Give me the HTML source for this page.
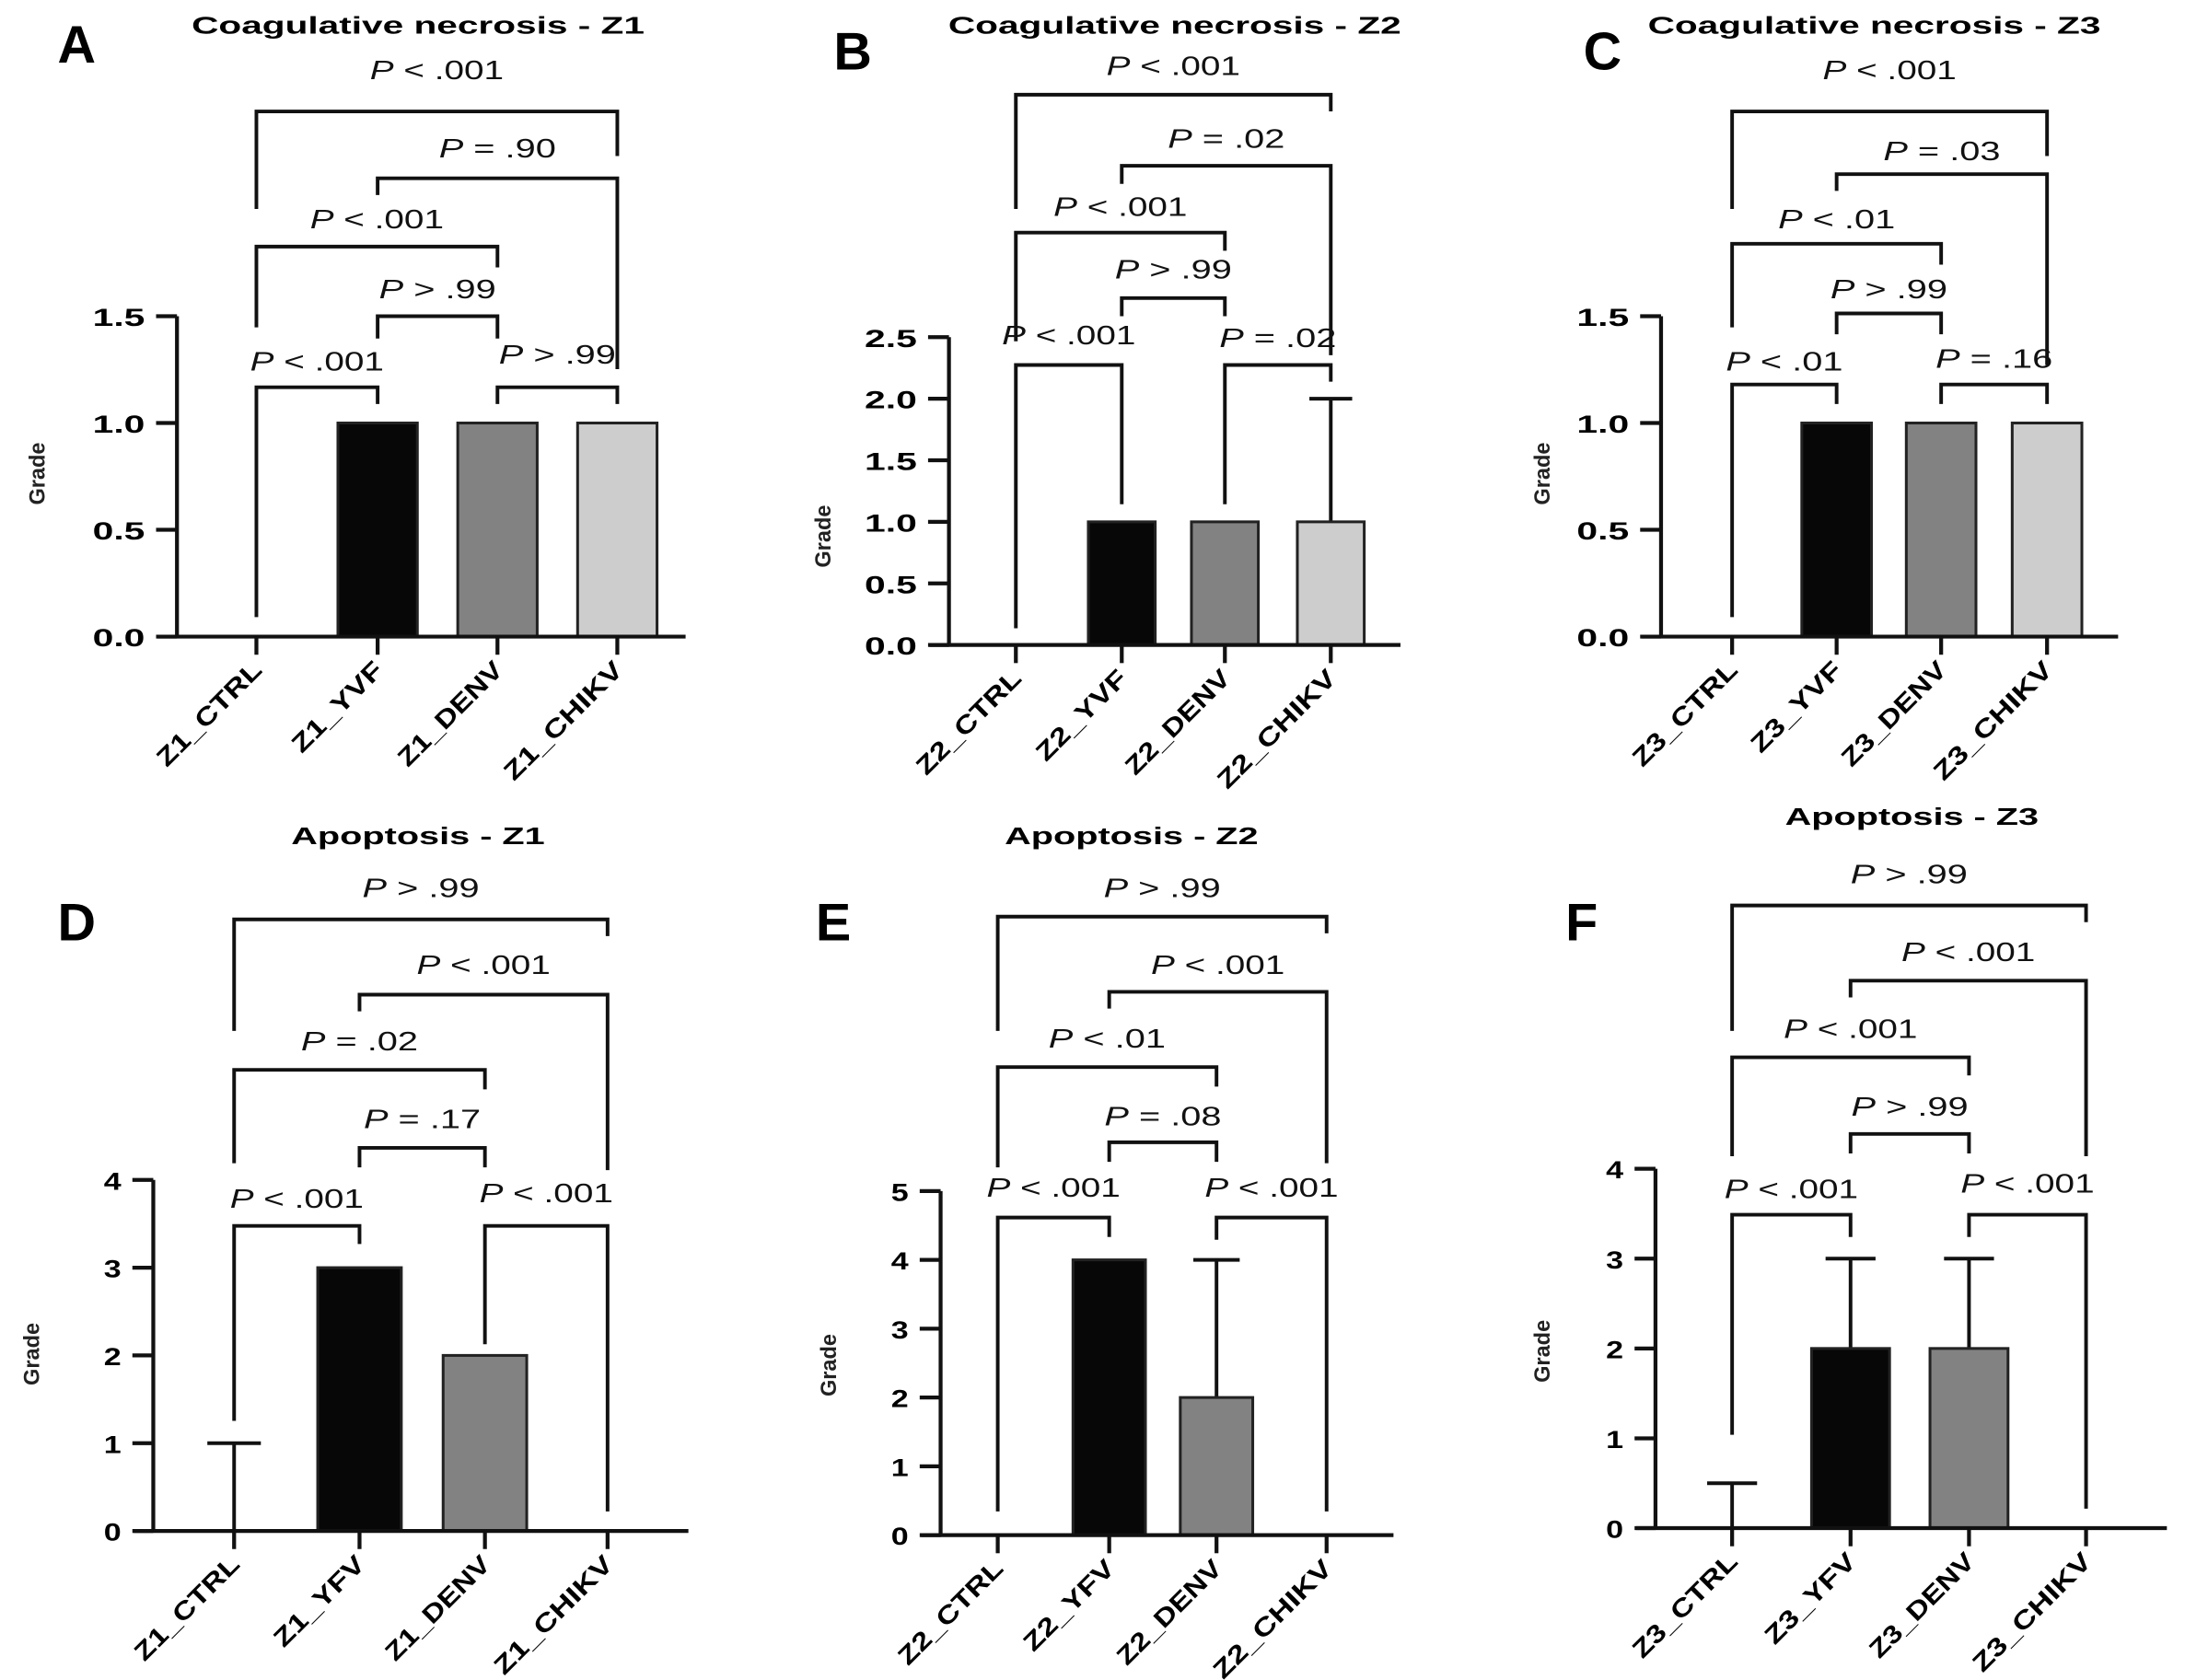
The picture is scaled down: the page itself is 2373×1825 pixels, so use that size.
<!DOCTYPE html>
<html><head><meta charset="utf-8"><style>
html,body{margin:0;padding:0;background:#fff}
svg{display:block}
text{font-family:"Liberation Sans",Arial,sans-serif}
</style></head><body>
<svg id="fig" width="2373" height="1825" viewBox="0 0 1568 1206" preserveAspectRatio="none" xmlns="http://www.w3.org/2000/svg"></svg>
<script>
// ---- data ----
const catsZ1 = ["Z1_CTRL","Z1_YVF","Z1_DENV","Z1_CHIKV"];
const catsZ2 = ["Z2_CTRL","Z2_YVF","Z2_DENV","Z2_CHIKV"];
const catsZ3 = ["Z3_CTRL","Z3_YVF","Z3_DENV","Z3_CHIKV"];
const catsD = ["Z1_CTRL","Z1_YFV","Z1_DENV","Z1_CHIKV"];
const catsE = ["Z2_CTRL","Z2_YFV","Z2_DENV","Z2_CHIKV"];
const catsF = ["Z3_CTRL","Z3_YFV","Z3_DENV","Z3_CHIKV"];
const valsA = [0,1,1,1];   const errA = [0,1,1,1];
const valsB = [0,1,1,1];   const errB = [0,1,1,2];
const valsC = [0,1,1,1];   const errC = [0,1,1,1];
const valsD = [0,3,2,0];   const errD = [1,3,2,0];
const valsE = [0,4,2,0];   const errE = [0,4,4,0];
const valsF = [0,2,2,0];   const errF = [0.5,3,3,0];
const ticksA = [0,0.5,1,1.5]; const tickLblA = ["0.0","0.5","1.0","1.5"];
const ticksB = [0,0.5,1,1.5,2,2.5]; const tickLblB = ["0.0","0.5","1.0","1.5","2.0","2.5"];
const ticksC = [0,0.5,1,1.5]; const tickLblC = ["0.0","0.5","1.0","1.5"];
const ticksD = [0,1,2,3,4]; const tickLblD = ["0","1","2","3","4"];
const ticksE = [0,1,2,3,4,5]; const tickLblE = ["0","1","2","3","4","5"];
const ticksF = [0,1,2,3,4]; const tickLblF = ["0","1","2","3","4"];
const pA = ["< .001","= .90","< .001","> .99","< .001","> .99"];
const pB = ["< .001","= .02","< .001","> .99","< .001","= .02"];
const pC = ["< .001","= .03","< .01","> .99","< .01","= .16"];
const pD = ["> .99","< .001","= .02","= .17","< .001","< .001"];
const pE = ["> .99","< .001","< .01","= .08","< .001","< .001"];
const pF = ["> .99","< .001","< .001","> .99","< .001","< .001"];

const fills = ["none","#070707","#828282","#cdcdcd"];
const NS = "http://www.w3.org/2000/svg";
const svg = document.getElementById('fig');
function mk(tag, attrs, parent){const e=document.createElementNS(NS,tag);for(const k in attrs)e.setAttribute(k,attrs[k]);(parent||svg).appendChild(e);return e;}

const panels = [
 {id:"a",letter:"A",lx:55,ly:30,title:"Coagulative necrosis - Z1",tx:300,ty:18,axX:127,y0:457,yT:227,tmax:1.5,xs:[184,271,357,443],bw:57,xEnd:492,gx:32,gy:340,
  cats:catsZ1,vals:valsA,err:errA,ticks:ticksA,tl:tickLblA,p:pA,
  br:[[0,3,80,150,112,50],[1,3,128,140,265,106],[0,2,177,235,192,157],[1,2,227,243,243,207],[0,1,278,443,290,259],[2,3,278,290,290,254]]},
 {id:"b",letter:"B",lx:612,ly:35,title:"Coagulative necrosis - Z2",tx:843,ty:18,axX:681,y0:463,yT:242,tmax:2.5,xs:[729,805,879,955],bw:48,xEnd:1005,gx:596,gy:385,
  cats:catsZ2,vals:valsB,err:errB,ticks:ticksB,tl:tickLblB,p:pB,
  br:[[0,3,68,150,80,47],[1,3,119,132,255,99],[0,2,167,245,180,148],[1,2,214,227,227,193],[0,1,262,451,362,240],[2,3,262,362,274,242]]},
 {id:"c",letter:"C",lx:1150,ly:35,title:"Coagulative necrosis - Z3",tx:1345,ty:18,axX:1192,y0:457,yT:227,tmax:1.5,xs:[1243,1318,1393,1469],bw:50,xEnd:1520,gx:1112,gy:340,
  cats:catsZ3,vals:valsC,err:errC,ticks:ticksC,tl:tickLblC,p:pC,
  br:[[0,3,80,150,112,50],[1,3,125,137,262,108],[0,2,175,235,190,157],[1,2,225,240,240,207],[0,1,276,443,290,259],[2,3,276,290,290,257]]},
 {id:"d",letter:"D",lx:55,ly:660,title:"Apoptosis - Z1",tx:300,ty:600,axX:110,y0:1099,yT:847,tmax:4,xs:[168,258,348,436],bw:60,xEnd:494,gx:28,gy:972,
  cats:catsD,vals:valsD,err:errD,ticks:ticksD,tl:tickLblD,p:pD,
  br:[[0,3,660,740,672,637],[1,3,714,726,840,692],[0,2,768,835,782,747],[1,2,824,838,838,803],[0,1,880,1020,893,860],[2,3,880,965,1085,856]]},
 {id:"e",letter:"E",lx:598,ly:660,title:"Apoptosis - Z2",tx:812,ty:600,axX:675,y0:1102,yT:855,tmax:5,xs:[716,796,873,952],bw:52,xEnd:1000,gx:600,gy:980,
  cats:catsE,vals:valsE,err:errE,ticks:ticksE,tl:tickLblE,p:pE,
  br:[[0,3,658,740,670,637],[1,3,712,724,835,692],[0,2,766,838,780,745],[1,2,820,834,834,801],[0,1,874,1085,888,852],[2,3,874,890,1085,852]]},
 {id:"f",letter:"F",lx:1135,ly:660,title:"Apoptosis - Z3",tx:1372,ty:586,axX:1188,y0:1097,yT:839,tmax:4,xs:[1243,1328,1413,1497],bw:56,xEnd:1555,gx:1112,gy:970,
  cats:catsF,vals:valsF,err:errF,ticks:ticksF,tl:tickLblF,p:pF,
  br:[[0,3,650,740,662,627],[1,3,704,716,830,683],[0,2,759,830,772,738],[1,2,814,828,828,794],[0,1,872,1030,888,853],[2,3,872,888,1083,849]]}
];

panels.forEach(P=>{
  const g = mk('g',{});
  
  
  const y = v => P.y0 - (P.y0-P.yT)*v/P.tmax;
  const L = mk('text',{x:P.lx,y:P.ly+15,'font-size':38,'font-weight':'bold','text-anchor':'middle'},g); L.textContent=P.letter;
   
  const T = mk('text',{x:P.tx,y:P.ty+6,'font-size':17,'font-weight':'bold','text-anchor':'middle',textLength:P.title.length*13,lengthAdjust:'spacingAndGlyphs'},g); T.textContent=P.title;
   
  const G = mk('text',{x:P.gx,y:P.gy,'font-size':16,'text-anchor':'middle',transform:`rotate(-90 ${P.gx} ${P.gy})`,'font-weight':'bold','fill':'#222',textLength:45,lengthAdjust:'spacingAndGlyphs'},g); G.textContent="Grade";
   
  P.vals.forEach((v,i)=>{
    const x=P.xs[i];
    if(P.err[i]>v){
      const e=mk('path',{d:`M${x} ${y(v)}V${y(P.err[i])}M${x-P.bw*0.32} ${y(P.err[i])}H${x+P.bw*0.32}`,stroke:'#111','stroke-width':2.6,fill:'none'},g);
       
    }
    if(v>0){
      const r=mk('rect',{x:x-P.bw/2,y:y(v),width:P.bw,height:P.y0-y(v),fill:fills[i],stroke:'#222','stroke-width':2},g);
       
    }
  });
  const ax=mk('path',{d:`M${P.axX} ${P.yT}V${P.y0}M${P.axX-14} ${P.y0}H${P.xEnd}`,stroke:'#111','stroke-width':2.8,fill:'none'},g);
   
  P.ticks.forEach((t,k)=>{
    mk('line',{x1:P.axX-15,x2:P.axX,y1:y(t),y2:y(t),stroke:'#111','stroke-width':2.8},g);
    const tt=mk('text',{x:P.axX-23,y:y(t)+7,'font-size':18,'font-weight':'bold','text-anchor':'end',textLength:P.tl[k].length*12.5,lengthAdjust:'spacingAndGlyphs'},g); tt.textContent=P.tl[k];
     
  });
  P.cats.forEach((c,i)=>{
    const x=P.xs[i];
    mk('line',{x1:x,x2:x,y1:P.y0,y2:P.y0+13,stroke:'#111','stroke-width':2.8},g);
    const tx=x+5, ty=P.y0+25;
    const xl=mk('text',{x:tx,y:ty,'font-size':18,'font-weight':'bold','text-anchor':'end',transform:`rotate(-45 ${tx} ${ty})`,textLength:c.length*14,lengthAdjust:'spacingAndGlyphs'},g); xl.textContent=c;
     
  });
  P.br.forEach((b,k)=>{
    const [i,j,yb,l1,l2,lyy]=b; const x1=P.xs[i], x2=P.xs[j];
    const bp=mk('path',{d:`M${x1} ${l1}V${yb}H${x2}V${l2}`,stroke:'#111','stroke-width':2.6,fill:'none'},g);
     
    const s='P '+P.p[k];
    const pt=mk('text',{x:(x1+x2)/2,y:lyy+7,'font-size':19,'text-anchor':'middle',fill:'#111',textLength:s.length*12,lengthAdjust:'spacingAndGlyphs'},g);
     
    const it=mk('tspan',{'font-style':'italic'},pt); it.textContent='P';
    const rest=mk('tspan',{},pt); rest.textContent=' '+P.p[k];
  });
});
</script>
</body></html>
